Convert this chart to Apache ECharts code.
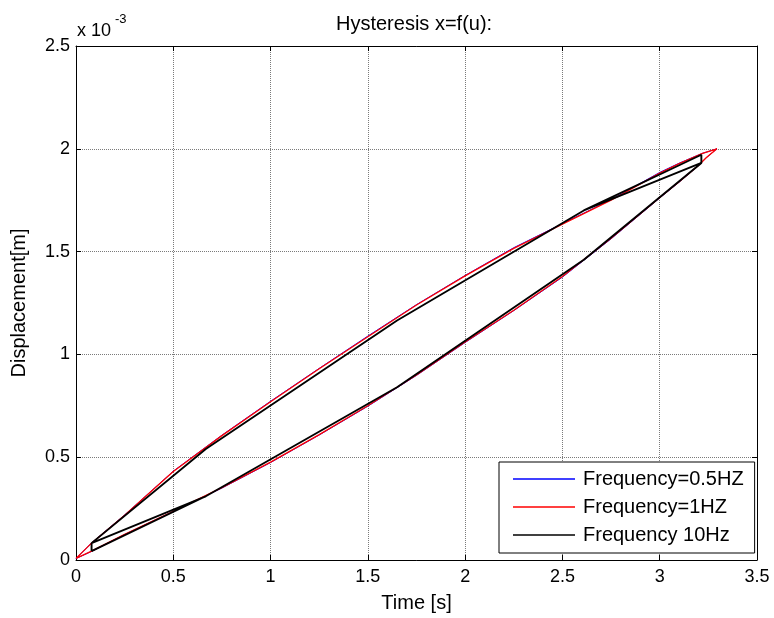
<!DOCTYPE html>
<html>
<head>
<meta charset="utf-8">
<script src="https://cdn.jsdelivr.net/npm/echarts@6/dist/echarts.min.js"></script>
<style>html,body{margin:0;padding:0;background:#fff;}#c{width:774px;height:618px;}</style>
</head>
<body>
<div id="c"></div>
<script>
// ---- data (displacement values in units of 1e-3 m, as on the axis) ----
const titleText = 'Hysteresis x=f(u):';
const xName = 'Time [s]';
const yName = 'Displacement[m]';
const seriesNames = ['Frequency=0.5HZ', 'Frequency=1HZ', 'Frequency 10Hz'];
const xTicks = [0, 0.5, 1, 1.5, 2, 2.5, 3, 3.5];
const yTicks = [0, 0.5, 1, 1.5, 2, 2.5];

// 0.5 Hz and 1 Hz loops share the same time samples (lower branch up, upper branch back)
const loopX = [0, 0.08, 0.25, 0.5, 0.75, 1.0, 1.25, 1.5, 1.75, 2.0, 2.25, 2.5, 2.75, 3.0, 3.1, 3.2, 3.24, 3.294,
               3.22, 3.1, 3.0, 2.75, 2.5, 2.25, 2.0, 1.75, 1.5, 1.25, 1.0, 0.75, 0.5, 0.25, 0.08, 0];
const blueY = [0.007, 0.042, 0.124, 0.236, 0.350, 0.474, 0.608, 0.748, 0.898, 1.058, 1.213, 1.376, 1.562, 1.761, 1.838, 1.919, 1.957, 2.000,
               1.978, 1.930, 1.885, 1.752, 1.636, 1.519, 1.384, 1.242, 1.089, 0.932, 0.772, 0.607, 0.432, 0.219, 0.083, 0.007];
const redY  = [0.008, 0.043, 0.125, 0.237, 0.352, 0.476, 0.610, 0.750, 0.900, 1.060, 1.215, 1.379, 1.565, 1.763, 1.840, 1.920, 1.958, 2.000,
               1.978, 1.928, 1.882, 1.750, 1.634, 1.516, 1.382, 1.240, 1.086, 0.930, 0.770, 0.605, 0.430, 0.218, 0.082, 0.008];
// 10 Hz trace (piecewise linear, two passes)
const blackX = [0.08, 0.667, 1.65, 2.61, 3.214, 2.61, 1.65, 0.667, 0.08, 0.667, 1.65, 2.61, 3.214, 3.214, 2.61, 1.65, 0.667, 0.08, 0.08];
const blackY = [0.043, 0.310, 0.840, 1.460, 1.931, 1.700, 1.165, 0.540, 0.082, 0.310, 0.840, 1.460, 1.931, 1.971, 1.700, 1.165, 0.540, 0.082, 0.043];

const FONT = "'Liberation Sans', Arial, Helvetica, sans-serif";
const zip = (xs, ys) => xs.map((x, i) => [x, ys[i]]);

const chart = echarts.init(document.getElementById('c'), null, {renderer: 'canvas'});
const xMin = xTicks[0], xMax = xTicks[xTicks.length - 1], xInt = xTicks[1] - xTicks[0];
const yMin = yTicks[0], yMax = yTicks[yTicks.length - 1], yInt = yTicks[1] - yTicks[0];

const mainAxisCommon = {
  axisLine: {show: true, onZero: false, lineStyle: {color: '#000', width: 1}},
  axisTick: {show: true, inside: true, length: 5, lineStyle: {color: '#000'}},
  splitLine: {show: true, lineStyle: {color: '#7a7a7a', type: 'dotted', width: 1}}
};
const mirrorAxisCommon = {
  axisLine: {show: true, onZero: false, lineStyle: {color: '#000', width: 1}},
  axisTick: {show: true, inside: true, length: 5, lineStyle: {color: '#000'}},
  axisLabel: {show: false},
  splitLine: {show: false}
};

chart.setOption({
  animation: false,
  backgroundColor: '#fff',
  title: {
    text: titleText, left: 331, top: 9,
    textStyle: {fontFamily: FONT, fontSize: 20, fontWeight: 'normal', color: '#000'}
  },
  grid: {left: 76, right: 17, top: 46, bottom: 56, containLabel: false},
  xAxis: [
    Object.assign({
      type: 'value', min: xMin, max: xMax, interval: xInt, position: 'bottom',
      name: xName, nameLocation: 'middle', nameGap: 33,
      nameTextStyle: {fontFamily: FONT, fontSize: 20, color: '#000'},
      axisLabel: {fontFamily: FONT, fontSize: 18, color: '#000', margin: 8}
    }, mainAxisCommon),
    Object.assign({type: 'value', min: xMin, max: xMax, interval: xInt, position: 'top'}, mirrorAxisCommon)
  ],
  yAxis: [
    Object.assign({
      type: 'value', min: yMin, max: yMax, interval: yInt, position: 'left',
      name: yName, nameLocation: 'middle', nameGap: 47, nameRotate: 90,
      nameTextStyle: {fontFamily: FONT, fontSize: 20, color: '#000'},
      axisLabel: {fontFamily: FONT, fontSize: 18, color: '#000', margin: 6}
    }, mainAxisCommon),
    Object.assign({type: 'value', min: yMin, max: yMax, interval: yInt, position: 'right'}, mirrorAxisCommon)
  ],
  legend: {
    orient: 'vertical', left: 499, top: 462,
    backgroundColor: '#fff', borderColor: '#000', borderWidth: 1, borderRadius: 0,
    padding: [7, 11, 8, 14],
    itemGap: 8, itemWidth: 62, itemHeight: 1.5, icon: 'rect',
    selectedMode: false,
    textStyle: {fontFamily: FONT, fontSize: 20, lineHeight: 20, color: '#000', padding: [0, 0, 0, 3]},
    data: seriesNames
  },
  graphic: [
    {type: 'text', left: 77, top: 22, style: {text: 'x 10', font: '18px ' + FONT, fill: '#000'}},
    {type: 'text', left: 115, top: 13, style: {text: '-3', font: '13px ' + FONT, fill: '#000'}}
  ],
  series: [
    {name: seriesNames[0], type: 'line', data: zip(loopX, blueY), symbol: 'none', color: '#0000ff',
     lineStyle: {color: '#0000ff', width: 1}, xAxisIndex: 0, yAxisIndex: 0, z: 2},
    {name: seriesNames[1], type: 'line', data: zip(loopX, redY), symbol: 'none', color: '#ff0000',
     lineStyle: {color: '#ff0000', width: 1.3}, xAxisIndex: 0, yAxisIndex: 0, z: 3},
    {name: seriesNames[2], type: 'line', data: zip(blackX, blackY), symbol: 'none', color: '#000000',
     lineStyle: {color: '#000000', width: 1.9}, xAxisIndex: 0, yAxisIndex: 0, z: 4}
  ]
});
</script>
</body>
</html>
